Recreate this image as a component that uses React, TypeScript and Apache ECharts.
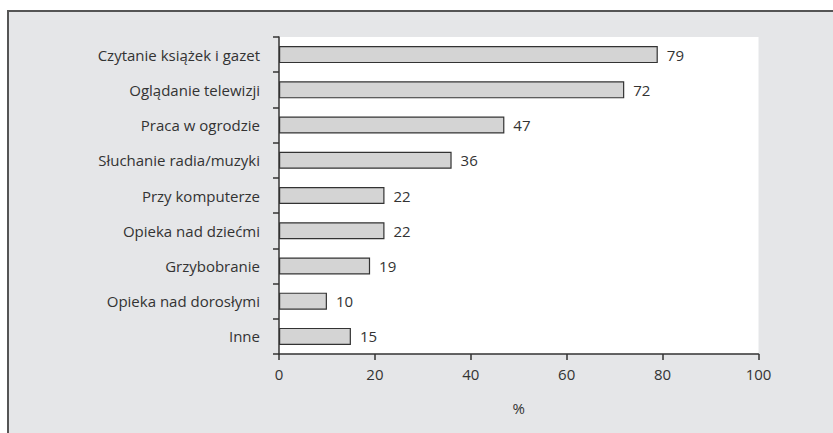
import React, { useEffect, useRef } from "react";
import * as echarts from "echarts";

const categories = [
  "Czytanie książek i gazet",
  "Oglądanie telewizji",
  "Praca w ogrodzie",
  "Słuchanie radia/muzyki",
  "Przy komputerze",
  "Opieka nad dziećmi",
  "Grzybobranie",
  "Opieka nad dorosłymi",
  "Inne",
];
const values = [79, 72, 47, 36, 22, 22, 19, 10, 15];
const xTicks = [0, 20, 40, 60, 80, 100];
const axisName = "%";

export default function App() {
  const ref = useRef<HTMLDivElement>(null);
  useEffect(() => {
    document.body.style.margin = "0";
    const chart = echarts.init(ref.current!, undefined, { renderer: "svg" });
    const font = "'Open Sans', 'Noto Sans', sans-serif";
    const fs = 15;
    chart.setOption({
      animation: false,
      backgroundColor: "#ffffff",
      textStyle: { fontFamily: font },
      graphic: [
        {
          type: "rect",
          z: -10,
          shape: { x: 8, y: 11, width: 840, height: 440 },
          style: { fill: "#e5e6e8", stroke: "#555555", lineWidth: 2 },
          silent: true,
        },
        {
          type: "rect",
          z: -5,
          shape: { x: 279, y: 37, width: 479.5, height: 317 },
          style: { fill: "#ffffff" },
          silent: true,
        },
      ],
      grid: { left: 279, right: 74.5, top: 37, bottom: 79, containLabel: false },
      xAxis: {
        type: "value",
        min: 0,
        max: 100,
        interval: 20,
        name: axisName,
        nameLocation: "middle",
        nameGap: 46,
        nameTextStyle: { fontSize: fs, color: "#333333", fontFamily: font },
        axisLine: { show: true, lineStyle: { color: "#333333", width: 1.5 } },
        axisTick: { show: true, length: 6, lineStyle: { color: "#333333", width: 1.5 } },
        axisLabel: {
          fontSize: fs,
          color: "#333333",
          margin: 12,
          fontFamily: font,
          formatter: (v: number) => (xTicks.includes(v) ? String(v) : ""),
        },
        splitLine: { show: false },
      },
      yAxis: {
        type: "category",
        data: categories,
        inverse: true,
        axisLine: { show: true, lineStyle: { color: "#333333", width: 1.5 } },
        axisTick: { show: true, length: 6, lineStyle: { color: "#333333", width: 1.5 } },
        axisLabel: { fontSize: fs, color: "#333333", margin: 19, fontFamily: font },
        splitLine: { show: false },
      },
      series: [
        {
          type: "bar",
          data: values,
          barWidth: 17,
          itemStyle: { color: "#d4d4d4", borderColor: "#333333", borderWidth: 1.2 },
          label: {
            show: true,
            position: "right",
            distance: 9,
            fontSize: fs,
            color: "#333333",
            fontFamily: font,
          },
        },
      ],
    });
    return () => chart.dispose();
  }, []);
  return (
    <div
      ref={ref}
      style={{ position: "absolute", left: 0, top: 0, width: 833, height: 433 }}
    />
  );
}
